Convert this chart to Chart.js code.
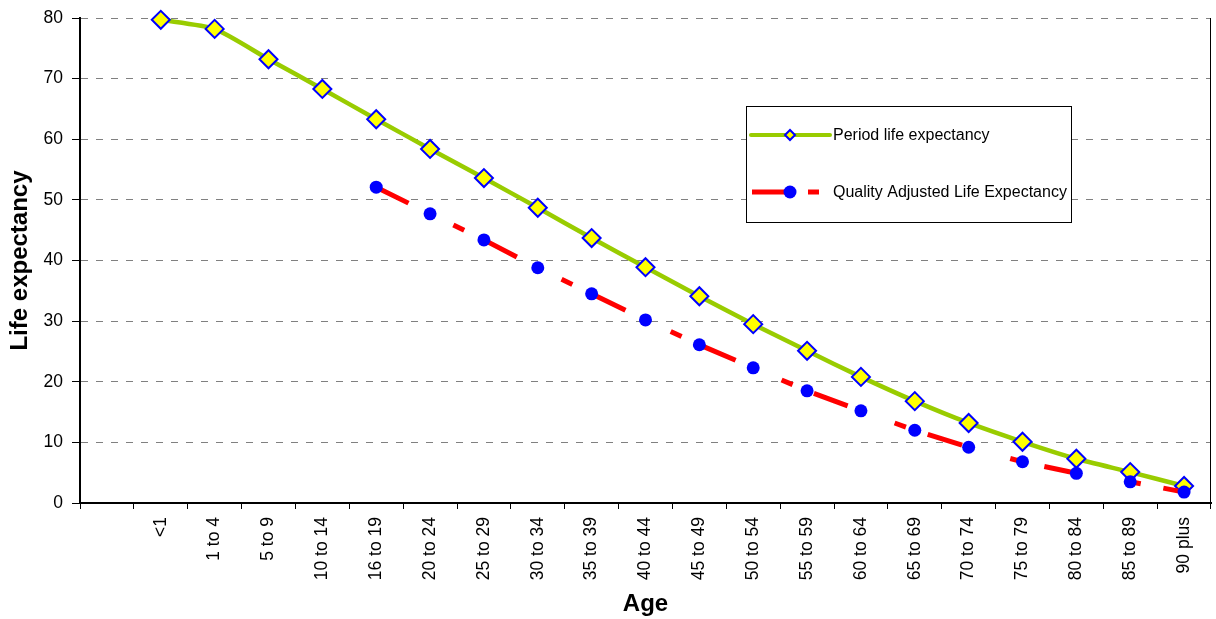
<!DOCTYPE html>
<html>
<head>
<meta charset="utf-8">
<script src="https://cdn.jsdelivr.net/npm/chart.js@4.4.1/dist/chart.umd.min.js"></script>
<style>
  html, body { margin: 0; padding: 0; background: #fff; }
  #wrap { width: 1216px; height: 619px; }
</style>
</head>
<body>
<div id="wrap"><canvas id="chart" width="1216" height="619"></canvas></div>
<script>
// ---- data ----
const ageGroups = ['', '<1', '1 to 4', '5 to 9', '10 to 14', '16 to 19', '20 to 24', '25 to 29',
  '30 to 34', '35 to 39', '40 to 44', '45 to 49', '50 to 54', '55 to 59', '60 to 64',
  '65 to 69', '70 to 74', '75 to 79', '80 to 84', '85 to 89', '90 plus'];
const periodLE = [null, 79.7, 78.2, 73.2, 68.3, 63.3, 58.4, 53.6, 48.7, 43.7, 38.9,
  34.1, 29.5, 25.1, 20.8, 16.8, 13.2, 10.1, 7.3, 5.1, 2.8];
const qale = [null, null, null, null, null, 52.1, 47.7, 43.4, 38.8, 34.5, 30.2,
  26.1, 22.3, 18.5, 15.2, 12.0, 9.2, 6.8, 4.9, 3.5, 1.8];
const yTicks = { min: 0, max: 80, step: 10 };

const FONT = "'Liberation Sans', Arial, sans-serif";
const GREEN = '#99cc00', RED = '#ff0000', BLUE = '#0000ff', YELLOW = '#ffff00';
const QALE_DASH = [36, 50, 12, 23];

// right border + boxed legend
const extras = {
  id: 'extras',
  afterDraw(chart) {
    const { ctx, chartArea: a } = chart;
    ctx.save();
    ctx.strokeStyle = '#000';
    ctx.lineWidth = 1;
    ctx.beginPath();
    ctx.moveTo(a.right - 0.5, a.top);
    ctx.lineTo(a.right - 0.5, a.bottom);
    ctx.stroke();

    // legend box
    const bx = a.left + 666, by = a.top + 88, bw = 325, bh = 116;
    ctx.fillStyle = '#fff';
    ctx.fillRect(bx, by, bw, bh);
    ctx.strokeStyle = '#000';
    ctx.strokeRect(bx + 0.5, by + 0.5, bw, bh);

    // entry 1
    let y = by + 29;
    ctx.lineCap = 'round';
    ctx.strokeStyle = GREEN;
    ctx.lineWidth = 4;
    ctx.beginPath();
    ctx.moveTo(bx + 5, y); ctx.lineTo(bx + 84, y);
    ctx.stroke();
    ctx.lineCap = 'butt';
    const cx = bx + 44, r = 5;
    ctx.beginPath();
    ctx.moveTo(cx - r, y); ctx.lineTo(cx, y - r); ctx.lineTo(cx + r, y); ctx.lineTo(cx, y + r);
    ctx.closePath();
    ctx.fillStyle = YELLOW; ctx.fill();
    ctx.strokeStyle = BLUE; ctx.lineWidth = 2; ctx.stroke();

    ctx.fillStyle = '#000';
    ctx.font = '16px ' + FONT;
    ctx.textBaseline = 'middle';
    ctx.fillText('Period life expectancy', bx + 87, y + 1);

    // entry 2
    y = by + 86;
    ctx.strokeStyle = RED;
    ctx.lineWidth = 5;
    ctx.beginPath();
    ctx.moveTo(bx + 6, y); ctx.lineTo(bx + 44, y);
    ctx.moveTo(bx + 62, y); ctx.lineTo(bx + 73, y);
    ctx.stroke();
    ctx.beginPath();
    ctx.arc(bx + 44, y, 6.5, 0, Math.PI * 2);
    ctx.fillStyle = BLUE; ctx.fill();
    ctx.fillStyle = '#000';
    ctx.fillText('Quality Adjusted Life Expectancy', bx + 87, y + 1);
    ctx.restore();
  }
};

new Chart(document.getElementById('chart'), {
  type: 'line',
  data: {
    labels: ageGroups,
    datasets: [
      {
        label: 'Quality Adjusted Life Expectancy',
        data: qale,
        order: 0,
        borderColor: RED,
        borderWidth: 5,
        borderDash: QALE_DASH,
        pointStyle: 'circle',
        pointRadius: 6.5,
        pointBackgroundColor: BLUE,
        pointBorderColor: BLUE,
        pointBorderWidth: 0,
        tension: 0,
        clip: false
      },
      {
        label: 'Period life expectancy',
        data: periodLE,
        order: 1,
        borderColor: GREEN,
        borderWidth: 4.5,
        pointStyle: 'rectRot',
        pointRadius: 9,
        pointBackgroundColor: YELLOW,
        pointBorderColor: BLUE,
        pointBorderWidth: 2,
        tension: 0.2,
        clip: false
      }
    ]
  },
  options: {
    responsive: false,
    animation: false,
    layout: { autoPadding: false, padding: { top: 18, right: 5, left: 0, bottom: 0 } },
    plugins: { legend: { display: false }, tooltip: { enabled: false } },
    scales: {
      x: {
        offset: true,
        grid: { drawOnChartArea: false, drawTicks: true, tickLength: 6, tickColor: '#000', tickWidth: 1, offset: true },
        border: { display: true, color: '#000', width: 2 },
        ticks: {
          color: '#000', font: { family: FONT, size: 17.5 },
          minRotation: 90, maxRotation: 90, autoSkip: false, padding: 8
        },
        title: { display: true, text: 'Age', color: '#000', font: { family: FONT, size: 24, weight: 'bold' }, padding: { top: 0, bottom: 0 } },
        afterFit(s) { s.height = 116; s.paddingLeft = 0; s.paddingRight = 0; }
      },
      y: {
        min: yTicks.min, max: yTicks.max,
        grid: { color: '#808080', lineWidth: 1, tickLength: 8, tickColor: '#000', tickBorderDash: [] },
        border: { display: true, color: '#000', width: 2, dash: [7, 8] },
        ticks: { stepSize: yTicks.step, color: '#000', font: { family: FONT, size: 17.5 }, padding: 9 },
        title: { display: true, text: 'Life expectancy', color: '#000', font: { family: FONT, size: 24, weight: 'bold' }, padding: { top: 6, bottom: 0 } },
        afterFit(s) { s.width = 80; s.paddingTop = 0; s.paddingBottom = 0; }
      }
    }
  },
  plugins: [extras]
});
</script>
</body>
</html>
